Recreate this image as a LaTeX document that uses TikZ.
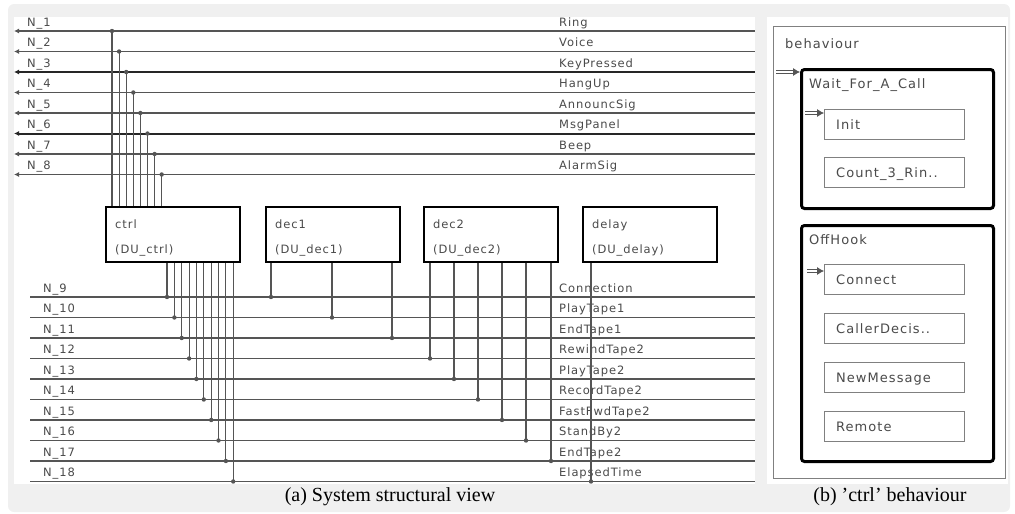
\documentclass[tikz,border=0pt]{standalone}
\usepackage{fontspec}
\setmainfont{Liberation Serif}
\newfontfamily\dv[LetterSpace=8]{DejaVu Sans}
\usetikzlibrary{arrows.meta,calc}
\definecolor{bg}{HTML}{F0F0F0}
\definecolor{ln}{HTML}{555555}
\definecolor{tx}{HTML}{4A4A4A}
\definecolor{sg}{HTML}{808080}
\begin{document}
\begin{tikzpicture}[x=1pt,y=-1pt,
  sig/.style={draw=ln, line width=1.2pt},
  sigthick/.style={draw=black!85, line width=2pt},
  conn/.style={draw=ln, line width=1.1pt},
  jdot/.style={fill=ln},
  lab/.style={font=\dv\fontsize{11.5}{13}\selectfont, text=tx, inner sep=0pt, anchor=base west},
  blab/.style={font=\dv\fontsize{13}{15}\selectfont, text=tx, inner sep=0pt, anchor=base west},
  unitbox/.style={draw=black, line width=2.4pt, minimum width=134pt, minimum height=55pt, anchor=north west, inner sep=0pt},
  outerbox/.style={draw=sg, line width=1.1pt, anchor=north west, inner sep=0pt, minimum width=232pt, minimum height=452pt},
  superstate/.style={draw=black, line width=3pt, rounded corners=3pt, anchor=north west, inner sep=0pt, minimum width=192pt},
  state/.style={draw=sg, line width=1.2pt, anchor=north west, inner sep=0pt, minimum width=140pt, minimum height=30pt},
  initarr/.style={draw=ln, double, double distance=1.6pt, line width=0.8pt, -{Latex[length=7pt,width=8pt]}},
  caption/.style={font=\fontsize{20}{24}\selectfont, inner sep=0pt}
]
\useasboundingbox (0,0) rectangle (1015,514);
% backgrounds
\fill[bg, rounded corners=6pt] (8,4) rectangle (1010,512);
\fill[white] (14,17) rectangle (755,484);
\fill[white] (767,17) rectangle (1008,484);

% ---------- panel (a) ----------
\node[unitbox] (ctrl) at (105,206) {};
\node[unitbox] (dec1) at (265,206) {};
\node[unitbox] (dec2) at (423,206) {};
\node[unitbox] (delay) at (582,206) {};
\foreach \b/\t in {ctrl/ctrl, dec1/dec1, dec2/dec2, delay/delay}{
  \node[lab] (\b-name) at ($(\b.north west)+(10,22)$) {\t};
  \node[lab] (\b-type) at ($(\b.north west)+(10,47)$) {(DU\_\t)};
}

% top signals
\foreach \i/\nm/\st in {1/Ring/sig, 2/Voice/sig, 3/KeyPressed/sigthick, 4/HangUp/sig,
                        5/AnnouncSig/sig, 6/MsgPanel/sigthick, 7/Beep/sig, 8/AlarmSig/sig}{
  \pgfmathsetmacro\yy{31+20.5*(\i-1)}
  \coordinate (L\i) at (14,\yy);
  \coordinate (R\i) at (755,\yy);
  \draw[\st, {Latex[length=5pt,width=5pt]}-] (L\i) -- (R\i);
  \node[lab] (nl\i) at (27,\yy-5) {N\_\i};
  \node[lab] (sl\i) at (559,\yy-5) {\nm};
}
\foreach \i in {1,...,8}{
  \pgfmathsetmacro\xx{112+7.1*(\i-1)}
  \pgfmathsetmacro\yy{31+20.5*(\i-1)}
  \coordinate (tj\i) at (\xx,\yy);
  \draw[conn] (tj\i) -- (tj\i |- ctrl.north);
  \fill[jdot] (tj\i) circle (2.2pt);
}

% bottom signals
\foreach \k/\nm in {9/Connection, 10/PlayTape1, 11/EndTape1, 12/RewindTape2, 13/PlayTape2,
                    14/RecordTape2, 15/FastFwdTape2, 16/StandBy2, 17/EndTape2, 18/ElapsedTime}{
  \pgfmathsetmacro\yy{297+20.5*(\k-9)}
  \coordinate (BL\k) at (30,\yy);
  \coordinate (BR\k) at (755,\yy);
  \draw[sig] (BL\k) -- (BR\k);
  \node[lab] (nb\k) at (43,\yy-5) {N\_\k};
  \node[lab] (sb\k) at (559,\yy-5) {\nm};
}
\foreach \xx/\k/\b in {167/9/ctrl, 174.4/10/ctrl, 181.7/11/ctrl, 189.1/12/ctrl, 196.4/13/ctrl,
                       203.8/14/ctrl, 211.2/15/ctrl, 218.5/16/ctrl, 225.9/17/ctrl, 233.2/18/ctrl,
                       271/9/dec1, 332/10/dec1, 392/11/dec1,
                       430/12/dec2, 454/13/dec2, 478/14/dec2, 502/15/dec2, 526/16/dec2, 551/17/dec2,
                       591/18/delay}{
  \pgfmathsetmacro\yy{297+20.5*(\k-9)}
  \coordinate (bj) at (\xx,\yy);
  \draw[conn] (bj |- \b.south) -- (bj);
  \fill[jdot] (bj) circle (2.2pt);
}

% ---------- panel (b) ----------
\node[outerbox] (beh) at (773,26) {};
\node[blab] (behlab) at (785,48) {behaviour};
\node[superstate, minimum height=139pt] (wfc) at (800,68) {};
\node[blab] (wfclab) at (809,88) {Wait\_For\_A\_Call};
\node[superstate, minimum height=236pt] (oh) at (800,224) {};
\node[blab] (ohlab) at (809,244) {OffHook};
\foreach \n/\y/\t in {init/109/Init, cnt/157/Count\_3\_Rin.., connect/264/Connect,
                      cdec/313/CallerDecis.., nmsg/362/NewMessage, rem/411/Remote}{
  \node[state] (\n) at (824,\y) {};
  \node[blab] (\n-lab) at ($(\n.west)+(12,4.5)$) {\t};
}
\coordinate (i0) at (776,72);
\draw[initarr] (i0) -- (i0 -| wfc.west);
\coordinate (i1) at (805,113);
\draw[initarr] (i1) -- (i1 -| init.west);
\coordinate (i2) at (807,271);
\draw[initarr] (i2) -- (i2 -| connect.west);

% captions
\node[caption] (capa) at (390,497) {(a) System structural view};
\node[caption] (capb) at (890,497) {(b) 'ctrl' behaviour};
\end{tikzpicture}
\end{document}
